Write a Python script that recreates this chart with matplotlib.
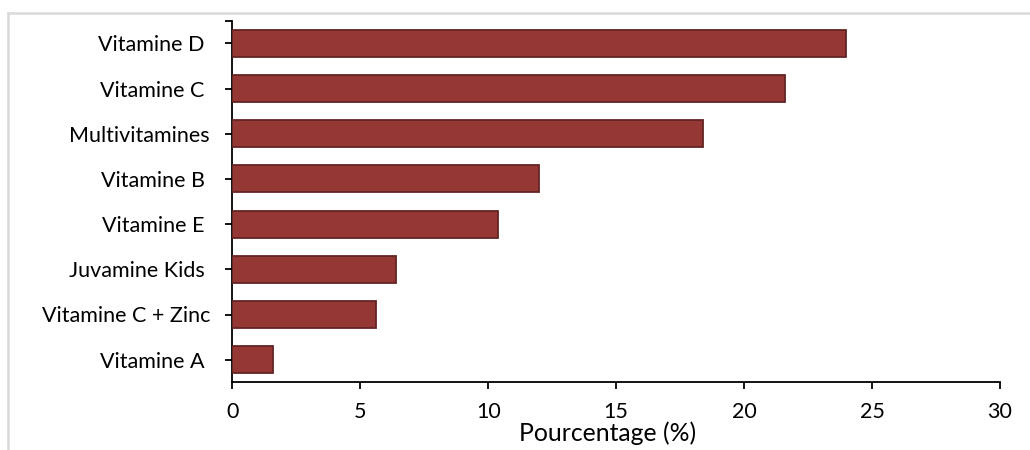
import matplotlib
matplotlib.use("Agg")
import matplotlib.pyplot as plt
from matplotlib.lines import Line2D

# Supplement usage shares (%), listed bottom to top
categories = ["Vitamine A ", "Vitamine C + Zinc", "Juvamine Kids ", "Vitamine E ",
              "Vitamine B ", "Multivitamines", "Vitamine C ", "Vitamine D "]
values = [1.6, 5.6, 6.4, 10.4, 12.0, 18.4, 21.6, 24.0]
x_ticks = [0, 5, 10, 15, 20, 25, 30]

plt.rcParams["font.family"] = ["Lato", "DejaVu Sans"]

fig = plt.figure(figsize=(10.30, 4.50), dpi=100)
ax = fig.add_axes([232.3 / 1030, 1 - 382.3 / 450, (1000 - 232.3) / 1030, (382.3 - 20.7) / 450])

pos = list(range(len(categories)))
ax.barh(pos, values, height=0.6, color="#953735", edgecolor="#632523", linewidth=1.3, zorder=3)

ax.set_xlim(0, 30)
ax.set_ylim(-0.5, len(categories) - 0.5)
ax.set_xticks(x_ticks)
ax.set_xticklabels([str(t) for t in x_ticks])
ax.set_yticks(pos)
ax.set_yticklabels(categories)
ax.set_yticks([len(categories) - 0.5], minor=True)

for side in ("top", "right"):
    ax.spines[side].set_visible(False)
for side in ("left", "bottom"):
    ax.spines[side].set_linewidth(1.3)
    ax.spines[side].set_color("black")

ax.tick_params(axis="x", direction="out", length=5, width=1.3, pad=9, labelsize=15.5)
ax.tick_params(axis="y", which="both", direction="out", length=5, width=1.3, pad=11, labelsize=15.5)
ax.set_xlabel("Pourcentage (%)", fontsize=17.8, labelpad=0)
ax.xaxis.label.set_x(0.489)

# light chart-area frame
frame_kw = dict(color="#d9d9d9", linewidth=1.8, transform=fig.transFigure)
fig.add_artist(Line2D([8 / 1030, 8 / 1030], [0, 1 - 13 / 450], **frame_kw))
fig.add_artist(Line2D([8 / 1030, 1], [1 - 13 / 450, 1 - 13 / 450], **frame_kw))

fig.savefig("out.png", dpi=100)
